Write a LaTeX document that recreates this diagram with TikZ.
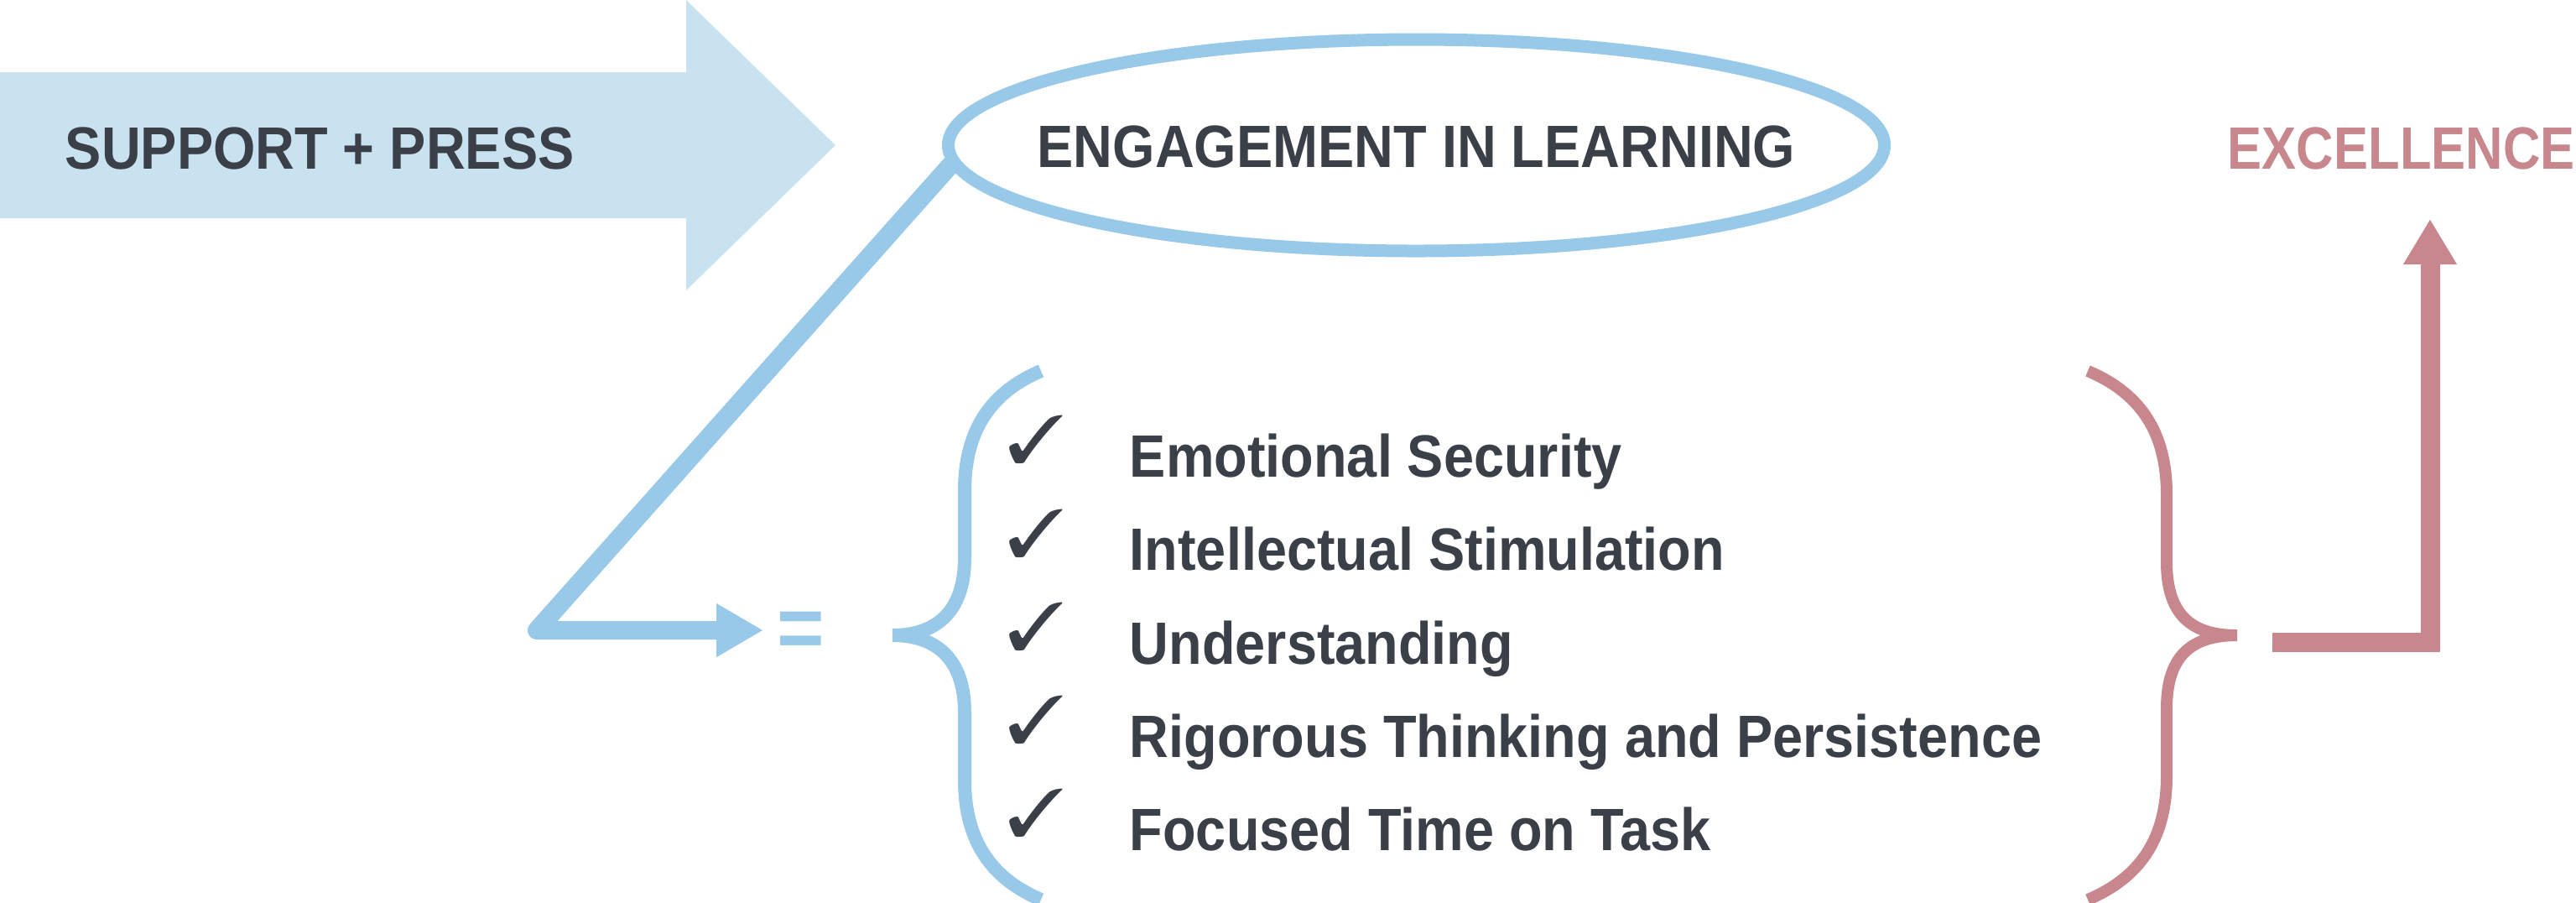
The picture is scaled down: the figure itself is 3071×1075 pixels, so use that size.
\documentclass[tikz,border=0pt]{standalone}
\usepackage{fontspec}
\usepackage{pifont}
\usepackage{graphicx}
\setmainfont{Liberation Sans}[FakeStretch=0.91]
\usetikzlibrary{arrows.meta,shapes.geometric}
\definecolor{skyline}{HTML}{99C9E9}
\definecolor{skyfill}{HTML}{C9E2EF}
\definecolor{rose}{HTML}{C7878D}
\definecolor{ink}{HTML}{3A3F48}
\tikzset{
  word/.style={font=\bfseries\fontsize{17.8}{20}\selectfont,text=ink,inner sep=0pt,anchor=base west},
  tick/.style={font=\fontsize{20}{20}\selectfont,text=ink,inner sep=0pt},
  curly/.style={line width=4pt},
}
\begin{document}
\begin{tikzpicture}[x=0.25pt,y=-0.25pt]
\useasboundingbox (0,0) rectangle (3071,1075);
\fill[skyfill] (0,86) -- (818,86) -- (818,0) -- (996,173) -- (818,346) -- (818,260) -- (0,260) -- cycle;
\node[word] (SP) at (77,201) {SUPPORT + PRESS};
\node[draw=skyline,line width=3.75pt,ellipse,minimum width=279pt,minimum height=63pt,inner sep=0pt,outer sep=0pt] (EL) at (1688.5,173) {};
\node[word,anchor=base] (ELT) at (1688.5,199) {ENGAGEMENT IN LEARNING};
\node[word,text=rose] (EX) at (2655,201) {\scalebox{0.95}[1]{EXCELLENCE}};
\coordinate (K) at (640,751);
\coordinate (KT) at (910,751);
\draw[skyline,line width=5.5pt,line join=round,-{Triangle[length=14pt,width=15pt]}] (EL.182) -- (K) -- (KT);
\node[text=skyline,font=\bfseries\fontsize{26.6}{30}\selectfont,inner sep=0pt] (EQ) at (955,756.5) {=};
\draw[skyline,curly] (1241,442) .. controls (1175,470) and (1150,520) .. (1150,585) -- (1150,665)
  .. controls (1150,730) and (1115,757) .. (1064,757) .. controls (1115,757) and (1150,784) .. (1150,849)
  -- (1150,929) .. controls (1150,994) and (1175,1044) .. (1241,1072);
\node[tick] (T1) at (1235.5,524) {\scalebox{1.15}[1]{\ding{51}}};
\node[tick] (T2) at (1235.5,635.5) {\scalebox{1.15}[1]{\ding{51}}};
\node[tick] (T3) at (1235.5,747) {\scalebox{1.15}[1]{\ding{51}}};
\node[tick] (T4) at (1235.5,858) {\scalebox{1.15}[1]{\ding{51}}};
\node[tick] (T5) at (1235.5,969) {\scalebox{1.15}[1]{\ding{51}}};
\node[word] (I1) at (1346,568) {Emotional Security};
\node[word] (I2) at (1346,679.5) {Intellectual Stimulation};
\node[word] (I3) at (1346,791) {Understanding};
\node[word] (I4) at (1346,902) {Rigorous Thinking and Persistence};
\node[word] (I5) at (1346,1013) {Focused Time on Task};
\draw[rose,curly,line width=3.5pt] (2489,442) .. controls (2560,472) and (2583,525) .. (2583,590) -- (2583,670)
  .. controls (2583,735) and (2615,757) .. (2667,757) .. controls (2615,757) and (2583,779) .. (2583,844)
  -- (2583,924) .. controls (2583,989) and (2560,1042) .. (2489,1072);
\coordinate (R) at (2709,765.5);
\coordinate (RT) at (2897,261);
\draw[rose,line width=5.75pt,-{Triangle[length=13.5pt,width=15pt]}] (R) -| (RT);
\end{tikzpicture}
\end{document}
